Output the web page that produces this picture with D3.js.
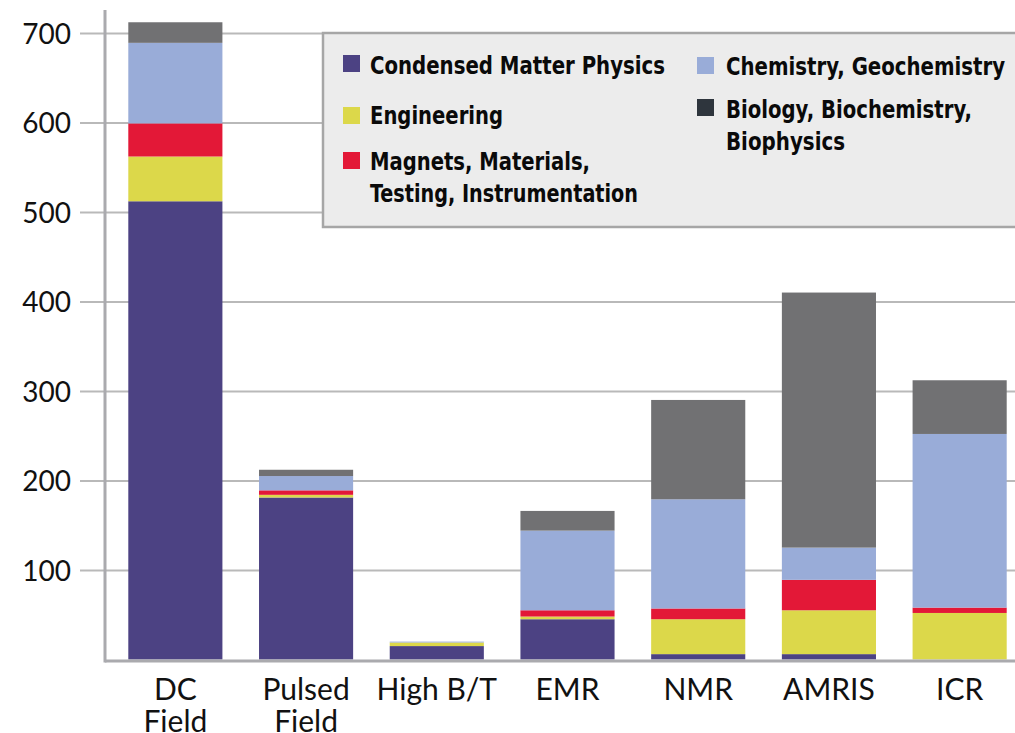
<!DOCTYPE html>
<html><head><meta charset="utf-8">
<script src="https://cdn.jsdelivr.net/npm/d3@7"></script>
<style>body{margin:0;background:#fff;overflow:hidden}</style>
</head><body>
<svg id="c" width="1015" height="733"></svg>
<script>
// ---- data ----
const categories = ["DC Field", "Pulsed Field", "High B/T", "EMR", "NMR", "AMRIS", "ICR"];
const categoryLabels = [["DC", "Field"], ["Pulsed", "Field"], ["High B/T"], ["EMR"], ["NMR"], ["AMRIS"], ["ICR"]];
const seriesNames = ["Condensed Matter Physics", "Engineering", "Magnets, Materials, Testing, Instrumentation", "Chemistry, Geochemistry", "Biology, Biochemistry, Biophysics"];
const condensed   = [512, 181, 15, 45, 6, 6, 0];
const engineering = [50, 3, 4, 3, 39, 49, 52];
const magnets     = [37, 5, 0, 7, 12, 34, 6];
const chemistry   = [90, 16, 1, 89, 122, 36, 194];
const biology     = [23, 7, 0, 22, 111, 285, 60];
const yTicks = [100, 200, 300, 400, 500, 600, 700];

// ---- styles / layout ----
const barColors = ["#4c4283", "#dcd84a", "#e31837", "#99acd8", "#717173"];
const swatchColors = ["#4c4283", "#dcd84a", "#e31837", "#99acd8", "#2e353d"];
const axisFont = "Lato, 'Open Sans', sans-serif";
const legendFont = "'Liberation Sans Narrow', 'DejaVu Sans Condensed', 'Roboto Condensed', sans-serif";

const svg = d3.select("#c");
const W = 1015;
const y = d3.scaleLinear().domain([0, 700]).range([659.5, 33]);
const x = d3.scaleBand().domain(categories).range([110, 1025]).paddingInner(0.28).paddingOuter(0.14);

// gridlines + y labels
const gy = svg.append("g").attr("transform", "translate(80,0)")
  .call(d3.axisLeft(y).tickValues(yTicks).tickSize(-(W - 80)).tickPadding(9));
gy.select(".domain").remove();
gy.selectAll(".tick line").attr("stroke", "#b9b9b9").attr("stroke-width", 2);
gy.selectAll(".tick text").attr("font-family", axisFont).attr("font-size", 28)
  .attr("fill", "#111").attr("dy", "0.36em");

// stacked data
const table = categories.map((c, i) => ({
  cat: c, s0: condensed[i], s1: engineering[i], s2: magnets[i], s3: chemistry[i], s4: biology[i]
}));
const stack = d3.stack().keys(["s0", "s1", "s2", "s3", "s4"])(table);

svg.append("g").selectAll("g").data(stack).join("g")
  .attr("fill", (d, i) => barColors[i])
  .selectAll("rect").data(d => d).join("rect")
  .attr("x", d => x(d.data.cat))
  .attr("width", x.bandwidth())
  .attr("y", d => y(d[1]))
  .attr("height", d => Math.max(0, y(d[0]) - y(d[1])));

// axes lines
svg.append("line").attr("x1", 105).attr("x2", W).attr("y1", y(0) + 1.5).attr("y2", y(0) + 1.5)
  .attr("stroke", "#aaaaae").attr("stroke-width", 3);
svg.append("line").attr("x1", 105).attr("x2", 105).attr("y1", 10).attr("y2", y(0) + 3)
  .attr("stroke", "#aaaaae").attr("stroke-width", 3);

// x labels
const gx = svg.append("g").attr("transform", `translate(0,${y(0)})`)
  .call(d3.axisBottom(x).tickSize(0).tickFormat(""));
gx.select(".domain").remove();
gx.selectAll(".tick").each(function (d, i) {
  const t = d3.select(this).append("text").attr("font-family", axisFont).attr("font-size", 30)
    .attr("fill", "#111").attr("text-anchor", "middle");
  categoryLabels[i].forEach((ln, j) => {
    t.append("tspan").attr("x", 0).attr("y", 40 + j * 32).text(ln);
  });
});

// legend
svg.append("rect").attr("x", 323).attr("y", 33).attr("width", 720).attr("height", 194)
  .attr("fill", "#ececec").attr("stroke", "#a6a6a6").attr("stroke-width", 2.5);

const legendLayout = [
  { sx: 343, sy: 55, lines: [["Condensed Matter Physics", 370, 73.5, 295]] },
  { sx: 343, sy: 107, lines: [["Engineering", 370, 124, 133]] },
  { sx: 343, sy: 152, lines: [["Magnets, Materials,", 370, 169.5, 220], ["Testing, Instrumentation", 370, 201.5, 268]] },
  { sx: 697, sy: 57, lines: [["Chemistry, Geochemistry", 726, 74.5, 279]] },
  { sx: 697, sy: 99, lines: [["Biology, Biochemistry,", 726, 118, 246], ["Biophysics", 726, 149.5, 119]] }
];
const lg = svg.append("g");
legendLayout.forEach((it, i) => {
  lg.append("rect").attr("x", it.sx).attr("y", it.sy).attr("width", 17).attr("height", 17)
    .attr("fill", swatchColors[i]);
  it.lines.forEach(([txt, tx, ty, tl]) => {
    lg.append("text").attr("x", tx).attr("y", ty).attr("font-family", legendFont)
      .attr("font-weight", "bold").attr("font-size", 24).attr("fill", "#0a0a0a")
      .attr("textLength", tl).attr("lengthAdjust", "spacingAndGlyphs").text(txt);
  });
});
</script>
</body></html>
